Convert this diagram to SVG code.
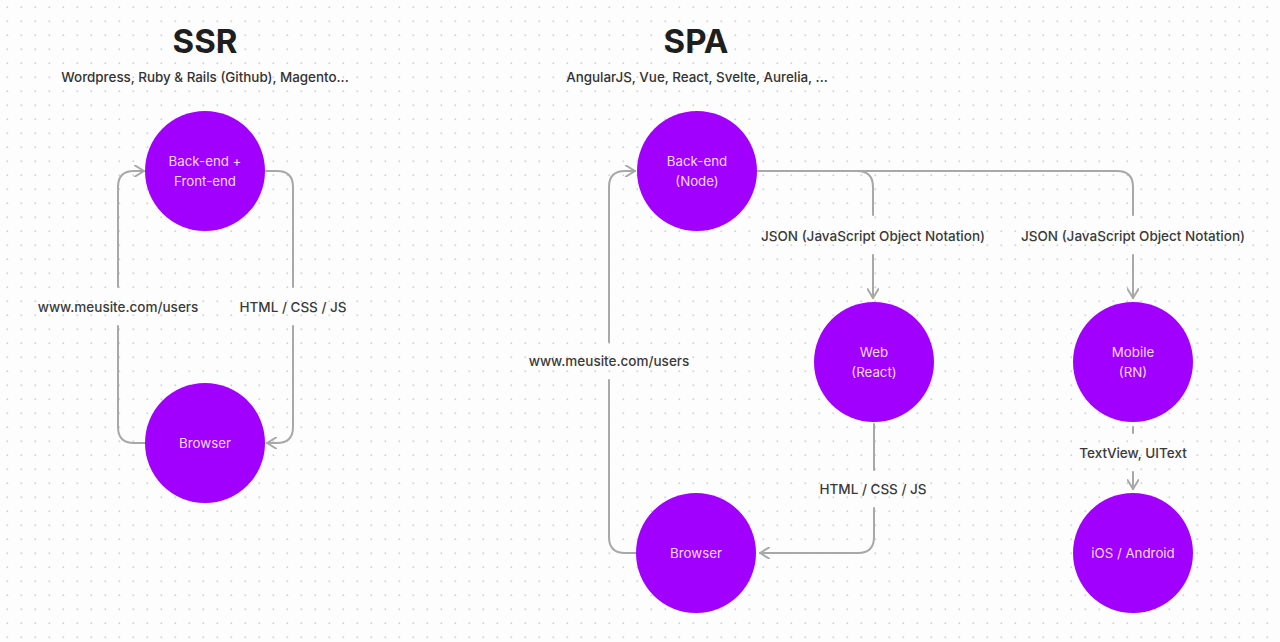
<svg xmlns="http://www.w3.org/2000/svg" width="1280" height="642" viewBox="0 0 1280 642">
<defs>
<pattern id="dots" x="0" y="0" width="14" height="14" patternUnits="userSpaceOnUse">
<circle cx="7.3" cy="7.3" r="1" fill="#d4d4d4"/>
</pattern>
<marker id="arr" viewBox="0 0 12 12" refX="11" refY="6" markerWidth="12" markerHeight="12" markerUnits="userSpaceOnUse" orient="auto">
<path d="M2,0.5 L11,6 L2,11.5" fill="none" stroke="#a8a8a8" stroke-width="2" stroke-linecap="round" stroke-linejoin="round"/>
</marker>
<style>
.title{font-family:Inter,"Liberation Sans",sans-serif;font-weight:700;font-size:33px;fill:#1e1e1e;text-anchor:middle}
.sub{font-family:Inter,"Liberation Sans",sans-serif;font-weight:500;font-size:13.4px;fill:#333;text-anchor:middle}
.lbl{font-family:Inter,"Liberation Sans",sans-serif;font-weight:500;font-size:13.5px;fill:#3a3a3a;text-anchor:middle}
.node circle{fill:#a100ff}
.node text{font-family:Inter,"Liberation Sans",sans-serif;font-size:13.3px;fill:#f5d8ff;text-anchor:middle}
.wire{fill:none;stroke:#a8a8a8;stroke-width:2;stroke-linecap:round}
</style>
</defs>
<rect width="1280" height="642" fill="#fdfdfd"/>
<rect width="1280" height="642" fill="url(#dots)"/>

<text class="title" x="205" y="53">SSR</text>
<text class="sub" x="205" y="82">Wordpress, Ruby &amp; Rails (Github), Magento...</text>
<text class="title" x="696" y="53">SPA</text>
<text class="sub" x="697" y="82">AngularJS, Vue, React, Svelte, Aurelia, ...</text>

<g id="connectors">
<!-- SSR left: Browser -> Back-end -->
<path class="wire" d="M145,443 H134 Q118,443 118,427 V326"/>
<path class="wire" d="M118,287 V187 Q118,171 134,171 H144" marker-end="url(#arr)"/>
<!-- SSR right: Back-end -> Browser -->
<path class="wire" d="M266,171 H277 Q293,171 293,187 V287"/>
<path class="wire" d="M293,326 V427 Q293,443 277,443 H267" marker-end="url(#arr)"/>
<!-- SPA left: Browser -> Back-end -->
<path class="wire" d="M636,553 H625 Q609,553 609,537 V380"/>
<path class="wire" d="M609,342 V187 Q609,171 625,171 H635" marker-end="url(#arr)"/>
<!-- SPA Back-end -> Web -->
<path class="wire" d="M758,171 H857 Q873,171 873,187 V215"/>
<path class="wire" d="M873,255 V298" marker-end="url(#arr)"/>
<!-- SPA Back-end -> Mobile -->
<path class="wire" d="M857,171 H1117 Q1133,171 1133,187 V215"/>
<path class="wire" d="M1133,255 V298" marker-end="url(#arr)"/>
<!-- Web -> Browser -->
<path class="wire" d="M874,424 V470"/>
<path class="wire" d="M874,508 V537 Q874,553 858,553 H760" marker-end="url(#arr)"/>
<!-- Mobile -> iOS -->
<path class="wire" d="M1133,427 V433"/>
<path class="wire" d="M1133,472 V489" marker-end="url(#arr)"/>

<text class="lbl" x="118" y="312">www.meusite.com/users</text>
<text class="lbl" x="293" y="312">HTML / CSS / JS</text>
<text class="lbl" x="609" y="366">www.meusite.com/users</text>
<text class="lbl" x="873" y="241">JSON (JavaScript Object Notation)</text>
<text class="lbl" x="1133" y="241">JSON (JavaScript Object Notation)</text>
<text class="lbl" x="873" y="494">HTML / CSS / JS</text>
<text class="lbl" x="1133" y="458">TextView, UIText</text>
</g>

<g id="ssr-backend" class="node">
<circle cx="205" cy="171" r="60"/>
<text x="205" y="166">Back-end +</text>
<text x="205" y="186">Front-end</text>
</g>
<g id="ssr-browser" class="node">
<circle cx="205" cy="443" r="60"/>
<text x="205" y="448">Browser</text>
</g>
<g id="spa-backend" class="node">
<circle cx="697" cy="171" r="60"/>
<text x="697" y="166">Back-end</text>
<text x="697" y="186">(Node)</text>
</g>
<g id="spa-web" class="node">
<circle cx="874" cy="362" r="60"/>
<text x="874" y="357">Web</text>
<text x="874" y="377">(React)</text>
</g>
<g id="spa-mobile" class="node">
<circle cx="1133" cy="362" r="60"/>
<text x="1133" y="357">Mobile</text>
<text x="1133" y="377">(RN)</text>
</g>
<g id="spa-browser" class="node">
<circle cx="696" cy="553" r="60"/>
<text x="696" y="558">Browser</text>
</g>
<g id="spa-ios" class="node">
<circle cx="1133" cy="553" r="60"/>
<text x="1133" y="558">iOS / Android</text>
</g>
</svg>
